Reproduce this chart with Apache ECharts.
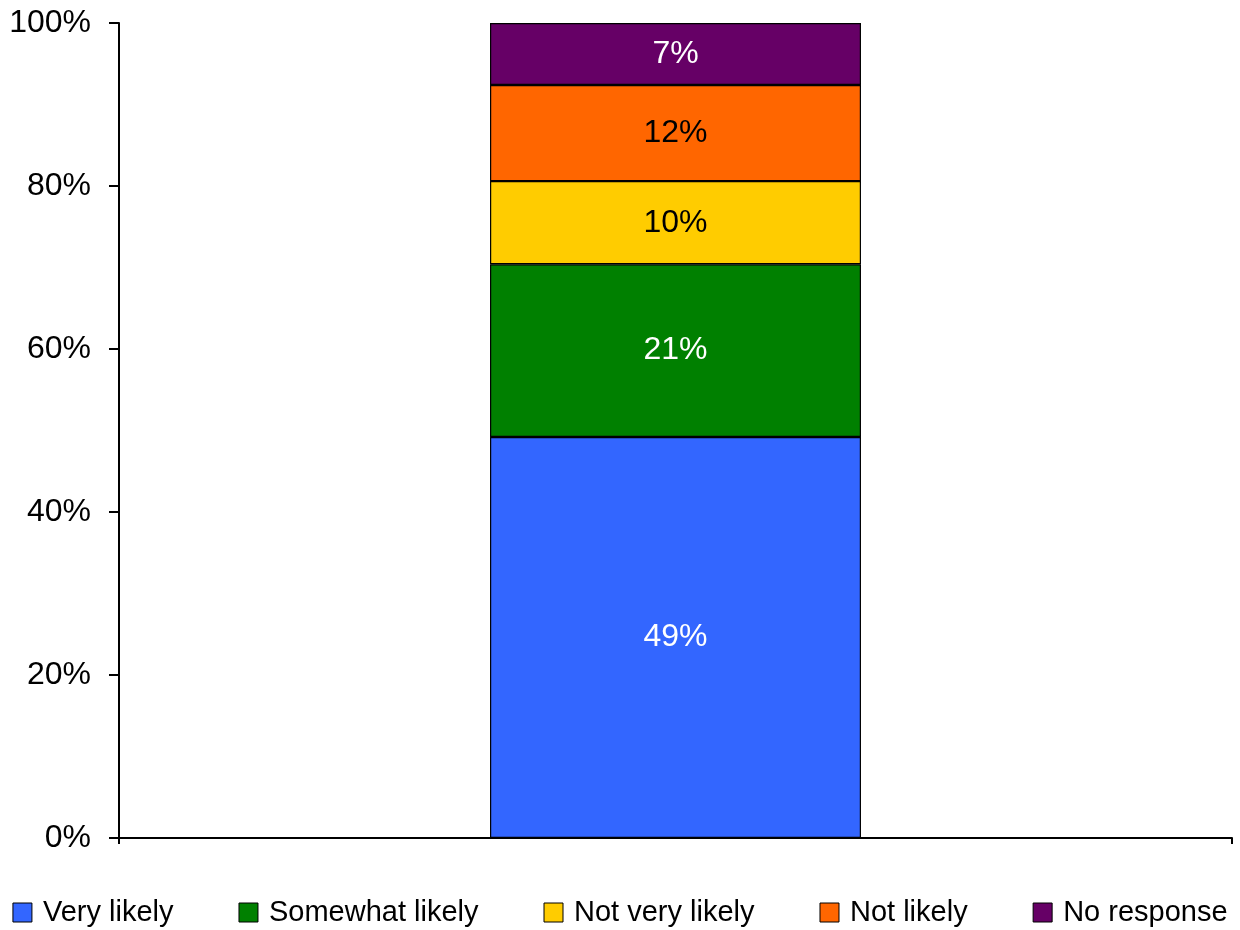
<!DOCTYPE html>
<html>
<head>
<meta charset="utf-8">
<script src="https://cdn.jsdelivr.net/npm/echarts@6/dist/echarts.min.js"></script>
<style>
html,body{margin:0;padding:0;background:#fff;}
#chart{width:1240px;height:930px;}
</style>
</head>
<body>
<div id="chart"></div>
<script>
// Data
var categories = [''];
var seriesNames = ['Very likely', 'Somewhat likely', 'Not very likely', 'Not likely', 'No response'];
var veryLikely = [49.2];
var somewhatLikely = [21.2];
var notVeryLikely = [10.2];
var notLikely = [11.8];
var noResponse = [7.6];
var labelTexts = ['49%', '21%', '10%', '12%', '7%'];
var yTicks = [0, 20, 40, 60, 80, 100];

var colors = ['#3366FF', '#008000', '#FFCC00', '#FF6600', '#660066'];
var labelColors = ['#FFFFFF', '#FFFFFF', '#000000', '#000000', '#FFFFFF'];
var values = [veryLikely, somewhatLikely, notVeryLikely, notLikely, noResponse];

var FONT = '"Liberation Sans", Arial, sans-serif';

var series = seriesNames.map(function (name, i) {
  return {
    name: name,
    type: 'bar',
    stack: 'total',
    barWidth: '33.33%',
    data: values[i],
    itemStyle: { color: colors[i], borderColor: '#000', borderWidth: 1.2 },
    label: {
      show: true,
      position: 'inside',
      formatter: function () { return labelTexts[i]; },
      color: labelColors[i],
      fontSize: 32,
      fontFamily: FONT
    },
    emphasis: { disabled: true },
    animation: false
  };
});

var chart = echarts.init(document.getElementById('chart'), null, { renderer: 'canvas' });
chart.setOption({
  animation: false,
  color: colors,
  grid: { left: 119, right: 8, top: 23, bottom: 92, containLabel: false },
  legend: {
    data: seriesNames,
    left: 'center',
    top: 893,
    icon: 'rect',
    itemWidth: 19,
    itemHeight: 19,
    itemGap: 65,
    itemStyle: { borderColor: '#000', borderWidth: 1 },
    textStyle: { fontSize: 29, fontFamily: FONT, color: '#000', padding: [0, 0, 0, 6] },
    selectedMode: false
  },
  xAxis: {
    type: 'category',
    data: categories,
    boundaryGap: true,
    axisLine: { show: true, lineStyle: { color: '#000', width: 2 } },
    axisTick: { show: true, length: 6, lineStyle: { color: '#000', width: 2 } },
    axisLabel: { show: false },
    splitLine: { show: false }
  },
  yAxis: {
    type: 'value',
    min: yTicks[0],
    max: yTicks[yTicks.length - 1],
    interval: yTicks[1] - yTicks[0],
    axisLine: { show: true, lineStyle: { color: '#000', width: 2 } },
    axisTick: { show: true, length: 10, lineStyle: { color: '#000', width: 2 } },
    axisLabel: { formatter: '{value}%', fontSize: 32, fontFamily: FONT, color: '#000', margin: 28 },
    splitLine: { show: false }
  },
  series: series
});
</script>
</body>
</html>
